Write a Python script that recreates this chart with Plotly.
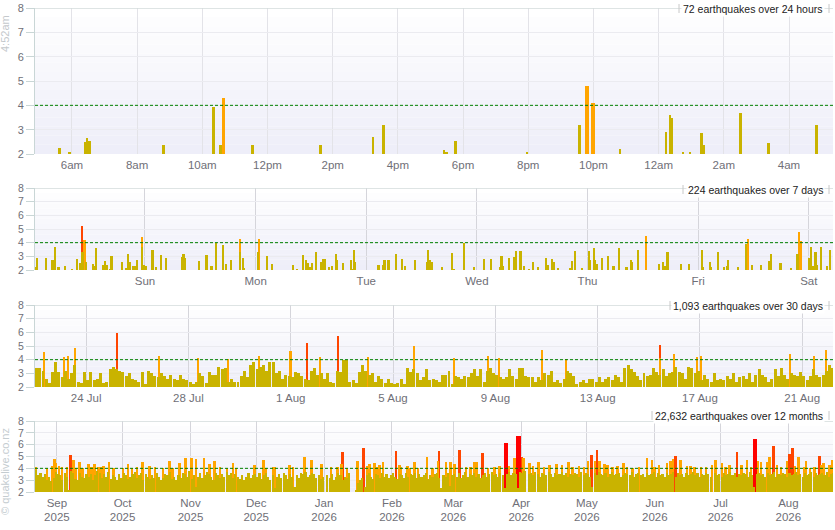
import pandas as pd
import plotly.graph_objects as go

# ---------------- data ----------------
# last 24 hours: hours after 21 Aug 2026 00:00, magnitudes
day_hours = [5.63, 5.93, 6.40, 6.48, 6.55, 8.82, 10.35, 10.57, 10.65, 11.55,
             13.63, 15.25, 15.57, 17.42, 17.50, 17.75, 17.78, 19.97, 21.58, 21.80,
             21.98, 22.82, 24.23, 24.35, 24.40, 24.75, 24.98, 25.32, 25.38, 26.52,
             27.38, 28.85]
day_mags = [2.25, 2.1, 2.5, 2.65, 2.55, 2.35, 3.95, 2.35, 4.3, 2.35,
            2.35, 2.7, 3.2, 2.15, 2.1, 2.25, 2.55, 2.1, 3.2, 4.8,
            4.1, 2.2, 2.9, 3.6, 3.5, 2.1, 2.1, 2.85, 2.35, 3.7,
            2.45, 3.2]
day_ticks = ["6am", "8am", "10am", "12pm", "2pm", "4pm", "6pm", "8pm", "10pm", "12am", "2am", "4am"]

# last 7 days: hours after 15 Aug 2026 00:00, magnitudes
week_hours = [0.5, 0.7, 2.5, 4.0, 4.6, 5.3, 6.8, 8.3, 9.4, 9.9,
              10.3, 10.5, 10.9, 11.3, 12.8, 13.2, 13.5, 15.0, 15.4, 15.7,
              16.4, 16.8, 19.0, 20.0, 20.4, 20.9, 21.5, 21.8, 22.3, 23.3,
              23.5, 23.9, 24.3, 25.7, 26.5, 27.6, 28.7, 32.0, 32.4, 32.8,
              35.7, 37.4, 38.5, 39.5, 41.0, 41.7, 42.8, 44.6, 44.7, 45.4,
              45.6, 48.6, 48.8, 50.6, 51.7, 56.2, 57.1, 58.4, 59.0, 59.5,
              59.8, 60.2, 60.3, 61.2, 62.3, 62.7, 63.1, 64.0, 64.7, 65.5,
              65.8, 67.1, 68.8, 69.1, 69.4, 69.7, 74.7, 75.7, 76.0, 76.9,
              78.5, 79.8, 80.5, 82.6, 85.2, 85.4, 85.8, 86.4, 88.4, 90.7,
              91.1, 93.3, 95.5, 97.6, 99.1, 101.1, 101.4, 101.7, 103.0, 104.2,
              104.5, 105.5, 106.3, 107.3, 108.2, 109.3, 111.1, 111.5, 112.4, 112.7,
              113.6, 116.3, 116.6, 117.3, 118.9, 120.3, 120.6, 121.4, 121.7, 122.2,
              123.2, 124.5, 125.7, 126.9, 128.5, 129.5, 129.7, 131.0, 132.6, 135.6,
              136.5, 136.8, 137.4, 140.4, 142.1, 144.8, 145.1, 146.6, 146.8, 148.3,
              149.7, 150.3, 150.6, 152.7, 154.4, 154.8, 155.8, 157.7, 159.4, 159.8,
              161.9, 164.2, 165.6, 165.9, 166.3, 168.2, 168.6, 169.0, 169.5, 169.9,
              170.7, 172.0, 172.7, 173.5]
week_mags = [2.2, 2.9, 2.9, 2.75, 3.7, 2.2, 2.3, 2.1, 2.8, 2.5,
             5.2, 3.3, 4.2, 2.6, 2.45, 2.3, 3.6, 2.4, 2.65, 2.4,
             2.1, 3.0, 2.6, 2.15, 3.2, 2.6, 2.3, 2.3, 2.7, 4.45,
             3.65, 2.4, 2.3, 3.5, 2.2, 3.1, 2.9, 2.95, 3.2, 2.9,
             2.65, 3.1, 2.3, 3.98, 3.85, 2.45, 2.7, 4.3, 3.3, 2.9,
             2.15, 3.3, 4.3, 3.05, 2.45, 2.4, 2.1, 3.1, 2.75, 2.5,
             2.2, 2.5, 2.3, 3.35, 2.6, 2.8, 2.8, 2.25, 2.3, 3.2,
             2.75, 2.5, 2.75, 2.1, 3.5, 2.55, 2.35, 2.4, 2.75, 2.75,
             3.2, 2.8, 2.3, 2.7, 2.6, 3.45, 2.7, 2.55, 2.25, 3.25,
             2.1, 3.98, 2.2, 2.8, 2.8, 2.2, 3.05, 2.3, 2.9, 2.95,
             3.4, 3.4, 2.3, 2.1, 2.6, 2.2, 2.85, 2.35, 2.8, 2.6,
             2.15, 2.15, 2.65, 3.4, 2.15, 3.4, 2.7, 3.6, 2.7, 2.45,
             2.9, 3.0, 2.3, 3.6, 2.2, 2.75, 2.6, 3.5, 4.5, 2.45,
             2.55, 2.3, 3.3, 2.45, 2.45, 3.5, 2.2, 2.55, 2.2, 3.3,
             2.2, 2.3, 2.7, 2.2, 3.9, 4.3, 2.35, 2.35, 2.65, 3.15,
             2.5, 2.15, 3.2, 4.8, 4.1, 2.9, 3.65, 2.3, 3.3, 2.4,
             3.7, 2.3, 3.45, 2.8]

# last 30 days: largest quake below M4 in each 3-hour block from 22 Jul 2026
month_gold = [3.4, 3.4, 3.2, 2.6, 2.3, 3.1, 3.8, 3.1, 2.7, 3.2,
              2.6, 3.0, 3.6, 2.4, 2.3, 3.1, 2.5, 3.1, 2.5, 2.6,
              3.0, 2.3, 2.4, 3.3, 3.5, 3.3, 3.2, 3.1, 2.8, 3.0,
              2.6, 2.5, 2.4, 3.1, 2.2, 3.2, 3.0, 2.8, 2.7, 3.0,
              2.8, 2.6, 2.9, 2.6, 2.5, 2.9, 2.6, 2.5, 2.4, 2.2,
              2.4, 3.0, 2.8, 2.3, 3.1, 2.9, 2.9, 3.5, 3.3, 3.4,
              2.4, 2.6, 2.4, 2.4, 2.8, 3.2, 2.7, 3.6, 3.8, 3.3,
              3.5, 3.6, 3.2, 3.8, 3.8, 3.0, 3.2, 2.6, 2.9, 2.8,
              2.7, 3.1, 3.0, 2.8, 2.6, 2.5, 3.2, 3.4, 2.9, 3.0,
              2.6, 3.0, 2.4, 2.3, 3.2, 3.1, 3.95, 3.95, 2.4, 2.5,
              2.3, 3.1, 3.6, 3.2, 2.9, 3.0, 2.4, 2.8, 2.6, 2.3,
              2.6, 2.3, 2.2, 2.3, 2.6, 2.2, 3.4, 3.1, 3.3, 3.0,
              2.5, 2.7, 3.3, 2.5, 2.6, 2.5, 2.4, 2.9, 2.9, 3.2,
              2.2, 2.8, 2.7, 2.6, 2.8, 2.7, 3.0, 3.3, 2.8, 3.3,
              2.4, 3.2, 3.4, 3.0, 2.9, 2.7, 2.6, 2.7, 3.3, 2.8,
              2.6, 3.4, 3.4, 2.8, 2.7, 2.7, 2.4, 2.7, 2.5, 3.0,
              2.9, 3.2, 2.4, 2.5, 2.3, 2.6, 3.2, 3.0, 2.8, 2.2,
              2.4, 2.5, 2.3, 2.6, 2.6, 2.4, 2.7, 2.4, 2.6, 2.7,
              2.5, 2.9, 2.7, 2.4, 3.4, 3.6, 3.3, 3.1, 2.8, 2.5,
              3.0, 2.8, 2.9, 3.4, 3.1, 2.9, 3.3, 2.8, 3.0, 3.1,
              3.5, 3.1, 3.0, 2.6, 3.5, 3.4, 3.0, 3.2, 2.5, 2.9,
              2.6, 2.4, 3.0, 2.5, 2.6, 2.5, 2.8, 2.6, 3.0, 2.4,
              2.7, 2.8, 2.6, 3.0, 2.4, 2.9, 3.3, 2.9, 2.7, 2.4,
              2.6, 3.3, 2.8, 3.4, 2.9, 2.6, 3.0, 2.9, 2.8, 3.1,
              2.8, 2.5, 2.8, 3.3, 2.9, 2.7, 2.9, 3.2, 3.6, 3.4]
# M4+ quakes in the last 30 days: days after 22 Jul 2026 00:00
month_big_days = [0.34, 1.12, 1.29, 1.56, 3.22, 4.84, 6.39, 7.54, 8.75, 9.99,
                  10.65, 11.16, 11.86, 13.03, 14.8, 16.39, 17.72, 18.16, 19.83, 20.78,
                  24.44, 24.45, 25.0, 25.9, 26.04, 29.53, 30.47, 30.94]
month_big_mags = [4.55, 4.2, 4.25, 4.85, 5.95, 4.25, 4.1, 4.05, 4.25, 4.6,
                  5.2, 4.2, 5.7, 4.2, 4.98, 4.1, 4.3, 4.1, 4.7, 4.05,
                  5.05, 4.1, 4.4, 4.2, 4.25, 4.4, 4.25, 4.7]

# last 12 months: largest quake below M4 each day from 22 Aug 2025
year_gold = [3.9, 3.4, 3.6, 3.3, 3.5, 3.0, 3.3, 2.9, 3.2, 3.7,
             3.5, 3.4, 3.0, 3.6, 3.3, 2.2, 3.8, 3.6, 3.1, 3.0,
             3.6, 3.3, 3.2, 3.5, 3.3, 3.5, 3.0, 3.4, 3.8, 3.6,
             3.2, 3.5, 3.3, 3.7, 3.1, 3.4, 3.3, 3.0, 3.5, 3.2,
             3.6, 3.4, 3.1, 3.3, 3.5, 3.7, 3.2, 3.4, 3.6, 3.0,
             3.5, 3.3, 3.1, 3.4, 3.2, 3.6, 3.3, 3.0, 3.2, 3.5,
             3.4, 3.7, 3.1, 3.3, 3.0, 3.4, 3.2, 3.6, 3.5, 3.3,
             3.8, 3.1, 3.4, 2.4, 3.3, 3.6, 3.2, 3.4, 3.7, 3.5,
             3.3, 3.0, 3.6, 3.4, 3.2, 3.5, 3.3, 3.7, 3.4, 3.6,
             3.2, 3.5, 3.3, 3.1, 3.4, 3.0, 3.3, 3.6, 3.2, 3.4,
             3.5, 3.3, 3.6, 3.1, 3.4, 3.6, 3.3, 3.0, 3.4, 2.3,
             3.3, 3.5, 3.2, 3.6, 3.4, 3.1, 3.5, 3.3, 2.4, 3.4,
             3.2, 3.6, 3.5, 3.7, 3.3, 3.4, 3.6, 3.5, 3.2, 3.4,
             3.1, 3.3, 0.0, 3.4, 3.2, 3.5, 3.0, 3.3, 3.6, 3.4,
             3.0, 3.3, 3.2, 3.6, 0.0, 0.0, 2.15, 2.8, 3.0, 3.2,
             2.4, 3.4, 3.6, 3.3, 3.1, 3.5, 3.4, 3.2, 3.6, 3.3,
             3.5, 3.2, 3.4, 3.6, 3.3, 3.1, 3.5, 3.4, 3.2, 3.6,
             3.3, 3.5, 3.4, 3.6, 3.2, 3.5, 3.3, 3.4, 3.6, 3.1,
             3.4, 3.3, 3.5, 3.6, 3.2, 2.3, 3.4, 3.3, 3.6, 2.5,
             3.4, 3.5, 3.3, 3.6, 3.2, 3.4, 3.7, 3.3, 3.5, 3.4,
             3.6, 3.3, 3.5, 3.2, 3.4, 3.6, 3.3, 3.5, 3.7, 3.4,
             3.5, 3.3, 3.6, 3.4, 2.3, 3.5, 3.7, 3.4, 3.6, 3.5,
             2.3, 3.7, 3.6, 3.8, 0.0, 3.5, 3.6, 3.4, 3.7, 3.5,
             3.3, 3.6, 3.5, 3.4, 3.7, 3.5, 3.3, 3.6, 3.4, 3.5,
             3.7, 3.4, 3.6, 3.3, 3.5, 3.4, 3.6, 3.5, 3.3, 3.7,
             3.4, 3.6, 3.5, 3.3, 2.4, 3.6, 3.4, 3.7, 3.5, 3.4,
             3.6, 3.3, 3.5, 3.7, 3.4, 3.5, 3.6, 3.3, 3.4, 3.6,
             3.5, 3.4, 3.7, 3.3, 3.5, 3.6, 3.4, 3.5, 3.3, 3.6,
             3.4, 3.5, 3.7, 3.3, 3.6, 3.4, 3.5, 3.3, 3.6, 3.4,
             3.5, 3.7, 3.3, 3.6, 3.4, 3.5, 3.3, 3.6, 3.4, 3.5,
             3.7, 3.4, 3.6, 3.3, 3.5, 3.4, 3.6, 3.5, 3.3, 0.0,
             3.6, 3.4, 3.5, 3.3, 3.6, 3.4, 3.5, 3.7, 3.4, 3.6,
             3.3, 3.5, 3.4, 3.6, 3.5, 3.3, 3.7, 3.4, 2.4, 3.5,
             3.6, 3.4, 3.5, 3.3, 3.6, 3.4, 3.5, 3.7, 3.3, 3.5,
             3.4, 3.6, 3.5, 3.3, 3.6, 3.4, 3.5, 3.7, 3.4, 3.5,
             3.3, 3.6, 3.4, 3.5, 3.7, 3.3, 3.6, 3.4, 3.5, 3.6,
             3.4, 3.7, 3.3, 3.5, 3.6]
# M4+ quakes in the last 12 months: days after 22 Aug 2025 00:00
year_big_days = [0.3, 5.5, 8.2, 9.0, 9.4, 11.0, 12.5, 14.8, 16.3, 17.7,
                 18.5, 20.4, 21.9, 24.5, 26.0, 27.2, 29.2, 30.0, 31.4, 33.8,
                 36.0, 40.2, 42.5, 44.4, 46.6, 49.3, 52.4, 55.0, 58.5, 61.5,
                 63.0, 66.0, 68.8, 71.5, 73.7, 77.2, 79.8, 82.0, 84.5, 87.7,
                 90.4, 91.9, 100.3, 104.4, 105.3, 109.0, 109.6, 116.3, 117.8, 123.1,
                 126.3, 130.9, 135.2, 138.3, 140.0, 140.6, 142.5, 147.3, 150.2, 151.9,
                 152.8, 155.1, 156.0, 157.4, 158.9, 165.0, 166.5, 167.3, 170.3, 171.2,
                 173.5, 175.0, 179.1, 181.7, 184.2, 184.7, 187.8, 189.8, 191.6, 193.9,
                 196.9, 198.9, 200.8, 201.6, 204.5, 207.0, 210.0, 212.1, 214.9, 216.5,
                 219.1, 220.8, 222.5, 223.1, 225.8, 227.4, 230.1, 232.5, 235.0, 238.3,
                 240.8, 243.8, 245.5, 248.4, 250.9, 252.6, 254.3, 255.7, 256.7, 257.8,
                 260.1, 261.6, 263.9, 266.0, 268.8, 270.5, 273.0, 276.0, 279.5, 281.8,
                 283.0, 285.0, 288.8, 290.3, 291.4, 292.6, 294.9, 297.8, 299.5, 301.3,
                 304.3, 306.5, 309.2, 310.8, 313.7, 315.5, 317.2, 320.6, 322.6, 325.2,
                 327.1, 328.8, 330.2, 331.7, 334.3, 335.5, 337.3, 338.8, 340.8, 343.4,
                 344.6, 346.1, 347.1, 348.7, 351.2, 352.2, 354.1, 356.0, 358.3, 359.3,
                 360.2, 362.9, 364.0]
year_big_mags = [4.1, 4.05, 4.2, 4.8, 4.45, 4.2, 4.15, 4.1, 5.15, 4.7,
                 4.0, 4.55, 4.05, 4.4, 4.1, 4.35, 4.1, 4.1, 4.2, 4.5,
                 4.05, 4.05, 4.4, 4.0, 4.15, 4.55, 4.2, 4.1, 4.05, 4.65,
                 4.05, 4.45, 4.9, 4.85, 4.75, 4.9, 4.4, 4.6, 4.1, 4.05,
                 4.45, 4.05, 4.3, 4.7, 4.05, 4.1, 4.1, 4.3, 4.1, 4.95,
                 4.7, 4.35, 4.1, 4.15, 4.35, 5.4, 4.05, 4.6, 5.75, 4.2,
                 4.35, 4.45, 4.15, 4.3, 4.55, 5.5, 4.25, 4.15, 4.2, 4.05,
                 4.55, 4.05, 4.95, 4.05, 4.6, 5.45, 4.55, 4.55, 4.35, 5.55,
                 4.15, 4.15, 4.55, 4.55, 5.3, 4.05, 4.1, 4.2, 6.1, 4.2,
                 4.9, 6.7, 5.0, 4.9, 4.45, 4.2, 4.55, 4.1, 4.3, 4.35,
                 4.3, 4.55, 4.15, 4.2, 4.1, 4.6, 5.15, 4.6, 5.55, 4.6,
                 4.35, 4.3, 4.1, 4.2, 4.45, 4.1, 4.0, 4.1, 4.9, 4.7,
                 4.15, 4.3, 4.45, 4.6, 4.75, 5.05, 4.7, 4.2, 4.2, 4.1,
                 4.1, 4.1, 4.3, 4.7, 4.45, 4.1, 4.3, 5.4, 4.3, 4.7,
                 4.1, 6.45, 4.6, 4.55, 4.55, 4.95, 5.9, 4.3, 4.1, 4.6,
                 5.25, 5.75, 4.2, 4.95, 4.1, 4.6, 4.05, 4.15, 5.05, 4.3,
                 4.45, 4.3, 4.7]

counts = ["72 earthquakes over 24 hours", "224 earthquakes over 7 days",
          "1,093 earthquakes over 30 days", "22,632 earthquakes over 12 months"]

# ---------------- styling ----------------
COLORS = {"red": "#ff0000", "redorange": "#ff4500", "orange": "#ffa500", "gold": "#c9b300"}
ORDER = ["red", "redorange", "orange", "gold"]   # gold is drawn on top


def mag_class(m):
    if m >= 6:
        return "red"
    if m >= 5:
        return "redorange"
    if m >= 4:
        return "orange"
    return "gold"


def sfx(n):
    return "" if n == 1 else str(n)


W, H = 835, 530
xdom = [35 / W, 833 / W]
# plot areas (top, bottom) in pixels
panels = [(8, 154), (188, 270), (305, 387), (421, 492)]

fig = go.Figure()


def add_bars(n, times, mags, widths, only=None):
    for cls in ORDER:
        if only and cls not in only:
            continue
        xs = [t for t, m in zip(times, mags) if mag_class(m) == cls]
        ys = [m for m in mags if mag_class(m) == cls]
        if not xs:
            continue
        fig.add_trace(go.Bar(x=xs, y=ys, width=widths[cls], marker_color=COLORS[cls],
                             marker_line_width=0, xaxis="x" + sfx(n), yaxis="y" + sfx(n),
                             showlegend=False, hoverinfo="skip"))


MS_H = 3600 * 1000
MS_D = 24 * MS_H

# panel 1 - 24 hours (1 px ~ 108 s)
t0 = pd.Timestamp("2026-08-21 00:00")
add_bars(1, [t0 + pd.Timedelta(hours=h) for h in day_hours], day_mags,
         {"gold": 200000, "orange": 400000, "redorange": 400000, "red": 400000})

# panel 2 - 7 days (1 px ~ 760 s)
t0 = pd.Timestamp("2026-08-15 00:00")
add_bars(2, [t0 + pd.Timedelta(hours=h) for h in week_hours], week_mags,
         {"gold": 1300000, "orange": 1700000, "redorange": 1700000, "red": 1700000})

# panel 3 - 30 days
t0 = pd.Timestamp("2026-07-22 00:00")
big_t = [t0 + pd.Timedelta(days=d) for d in month_big_days]
add_bars(3, big_t, month_big_mags,
         {"gold": 0, "orange": 6800000, "redorange": 6800000, "red": 6800000}, only=["red", "redorange", "orange"])
gold_t = [t0 + pd.Timedelta(hours=3 * i + 1.5) for i in range(len(month_gold))]
add_bars(3, gold_t, month_gold, {"gold": int(2.8 * MS_H)}, only=["gold"])

# panel 4 - 12 months
t0 = pd.Timestamp("2025-08-22 00:00")
big_t = [t0 + pd.Timedelta(days=d) for d in year_big_days]
add_bars(4, big_t, year_big_mags,
         {"gold": 0, "orange": int(0.9 * MS_D), "redorange": int(0.9 * MS_D), "red": int(1.9 * MS_D)},
         only=["red", "redorange", "orange"])
gold_t = [t0 + pd.Timedelta(hours=24 * i + 12) for i in range(len(year_gold))]
add_bars(4, gold_t, year_gold, {"gold": int(0.96 * MS_D)}, only=["gold"])

ranges = [
    ["2026-08-21 04:52", "2026-08-22 05:21"],
    ["2026-08-15 00:09", "2026-08-22 05:15"],
    ["2026-07-22 00:00", "2026-08-22 04:52"],
    ["2025-08-22 00:00", "2026-08-21 09:00"],
]

layout = dict(
    width=W, height=H, autosize=False,
    margin=dict(l=0, r=0, t=0, b=0, pad=0, autoexpand=False),
    paper_bgcolor="white", plot_bgcolor="white",
    barmode="overlay", bargap=0,
    font=dict(family="Liberation Sans, Arial, sans-serif", color="#666666", size=11),
    showlegend=False,
)

shapes = []
annotations = []
label_y = [9, 190, 306, 416]        # vertical centre of each count label (px)
label_left = [679, 683, 670, 652]   # left edge of each count label box (px)
for i, (top, bottom) in enumerate(panels):
    n = i + 1
    s = sfx(n)
    ydom = [1 - bottom / H, 1 - top / H]
    xa = dict(domain=xdom, anchor="y" + s, type="date", range=ranges[i],
              showgrid=True, gridcolor="#e3e3e8" if n == 1 else "#d5d5db", gridwidth=1,
              zeroline=False, showline=False, ticks="", automargin=False,
              tickfont=dict(size=11.5, color="#6f6f77"), ticklabelstandoff=2,
              fixedrange=True)
    ya = dict(domain=ydom, anchor="x" + s, range=[2, 8], dtick=1, tick0=2,
              showgrid=True, gridcolor="#ebebf0", zeroline=False, automargin=False,
              showline=True, linecolor="#c9d6d6", linewidth=1,
              ticks="outside", ticklen=8, tickcolor="#c9d6d6",
              tickfont=dict(size=11 if n == 1 else 10.5, color="#6f6f77"),
              fixedrange=True)
    if n == 1:
        xa["tickvals"] = [pd.Timestamp("2026-08-21 06:00") + pd.Timedelta(hours=2 * k)
                          for k in range(len(day_ticks))]
        xa["ticktext"] = day_ticks
    elif n == 2:
        xa.update(tick0="2026-08-16", dtick=MS_D, tickformat="%a")
    elif n == 3:
        xa.update(tick0="2026-07-24", dtick=4 * MS_D, tickformat="%-d %b")
    else:
        xa.update(tick0="2025-09-01", dtick="M1", tickformat="%b<br>%Y")
    layout["xaxis" + s] = xa
    layout["yaxis" + s] = ya

    # soft vertical gradient behind the bars
    bands = 16
    for k in range(bands):
        f = k / (bands - 1)
        r = int(238 + (255 - 238) * f)
        g = int(238 + (255 - 238) * f)
        b = int(249 + (255 - 249) * f)
        shapes.append(dict(type="rect", xref="x%s domain" % s, yref="y" + s,
                           x0=0, x1=1, y0=2 + 6 * k / bands, y1=2 + 6 * (k + 1) / bands,
                           fillcolor="rgb(%d,%d,%d)" % (r, g, b), line_width=0, layer="below"))
    # top border
    shapes.append(dict(type="line", xref="x%s domain" % s, yref="y" + s,
                       x0=0, x1=1, y0=8, y1=8, line=dict(color="#d3dbdb", width=1.5)))
    # M4 threshold
    shapes.append(dict(type="line", xref="x%s domain" % s, yref="y" + s,
                       x0=0, x1=1, y0=4, y1=4, line=dict(color="#008000", width=1, dash="3px,2px")))

    annotations.append(dict(text=counts[i], xref="paper", yref="paper",
                            x=825 / W, y=1 - label_y[i] / H, xanchor="right", yanchor="middle",
                            showarrow=False, bgcolor="white", borderpad=1,
                            font=dict(size=10.5, color="#222222")))
    # little separator ticks either side of the count label
    for px in (label_left[i], 829):
        shapes.append(dict(type="line", xref="paper", yref="paper",
                           x0=px / W, x1=px / W, y0=1 - (label_y[i] - 5) / H, y1=1 - (label_y[i] + 4) / H,
                           line=dict(color="#c8c8c8", width=1)))

annotations.append(dict(text="4:52am", xref="paper", yref="paper", x=5 / W, y=1 - 34 / H,
                        textangle=-90, showarrow=False, xanchor="center", yanchor="middle",
                        font=dict(size=11, color="#c4c8cc")))
annotations.append(dict(text="© quakelive.co.nz", xref="paper", yref="paper", x=5 / W, y=1 - 472 / H,
                        textangle=-90, showarrow=False, xanchor="center", yanchor="middle",
                        font=dict(size=11, color="#c4ccd0")))

layout["shapes"] = shapes
layout["annotations"] = annotations
fig.update_layout(**layout)

fig.write_html("out.html", config={"displayModeBar": False},
               post_script="document.body.style.margin='0';document.body.style.overflow='hidden';")
